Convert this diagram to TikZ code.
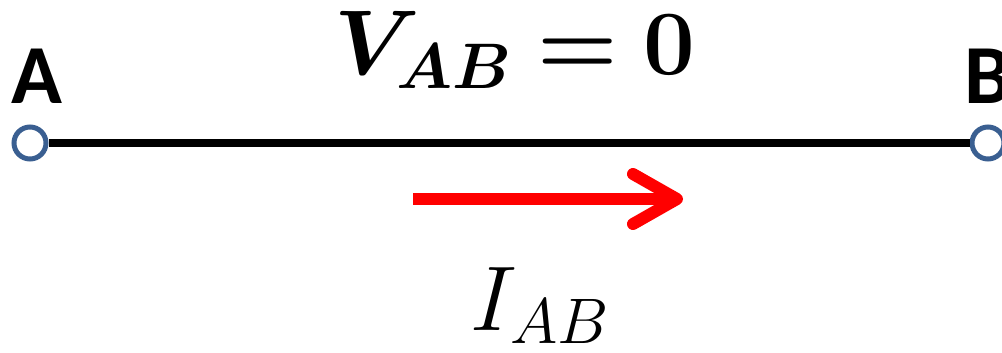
\RequirePackage{fix-cm}
\documentclass[tikz,border=0pt]{standalone}
\usepackage{fontspec}
\usepackage{bm}
\newfontfamily\pinfont{Carlito}
\usetikzlibrary{arrows.meta}
\definecolor{termblue}{RGB}{58,95,145}
\begin{document}
\begin{tikzpicture}[x=1pt,y=-1pt,>=Latex]
  \tikzstyle{terminal}=[draw=termblue,line width=5pt,circle,fill=white,minimum size=32pt,inner sep=0pt]
  \tikzstyle{pinlabel}=[inner sep=0pt,anchor=base,font=\pinfont\bfseries\fontsize{84}{90}\selectfont]
  \tikzstyle{formula}=[inner sep=0pt,anchor=base,font=\fontsize{92}{100}\selectfont]
  \useasboundingbox (0,0) rectangle (1002,353);
  % terminals and wire
  \node[terminal] (a) at (30,143) {};
  \node[terminal] (b) at (988,143) {};
  \draw[line width=8pt] (a) -- (b);
  \node[pinlabel] (alabel) at (37,103) {A};
  \node[pinlabel] (blabel) at (988,103) {B};
  \node[formula] (vab) at (515,75) {$\bm{V_{AB}=0}$};
  % current arrow
  \coordinate (itail) at (413,199);
  \coordinate (ihead) at (683,199);
  \draw[red,line width=12pt,-{Straight Barb[length=44pt,width=50pt,line cap=round,line join=round]}] (itail) -- (ihead);
  \node[formula] (iab) at (540,330) {$I_{AB}$};
\end{tikzpicture}
\end{document}
